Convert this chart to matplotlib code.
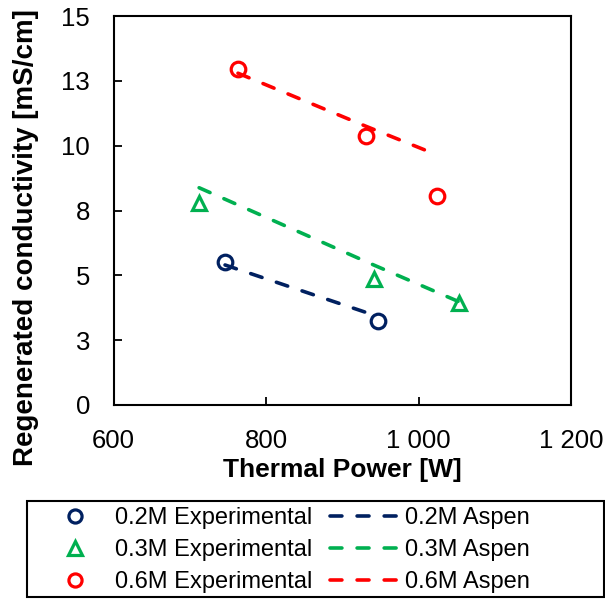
import numpy as np
import matplotlib
matplotlib.use('Agg')
import matplotlib.pyplot as plt
from matplotlib.patches import Rectangle
from matplotlib.ticker import FixedLocator, FuncFormatter

plt.rcParams['font.family'] = ['Liberation Sans', 'DejaVu Sans']

# ── Data ──────────────────────────────────────────────────────────────────────
exp_02_x = [746, 947]
exp_02_y = [5.53, 3.25]
exp_03_x = [712, 941, 1053]
exp_03_y = [7.78, 4.85, 3.95]
exp_06_x = [763, 931, 1024]
exp_06_y = [12.98, 10.37, 8.06]

asp_02_x = [746, 946]
asp_02_y = [5.40, 3.42]
asp_03_x = [712, 941, 1053]
asp_03_y = [8.38, 5.40, 3.98]
asp_06_x = [763, 931, 1024]
asp_06_y = [12.80, 10.75, 9.65]

x_ticks = [600, 800, 1000, 1200]
y_ticks = [0, 2.5, 5, 7.5, 10, 12.5, 15]

NAVY, GREEN, RED = '#002060', '#00B050', '#FF0000'

# ── Plot ──────────────────────────────────────────────────────────────────────
fig = plt.figure(figsize=(6.05, 5.99), dpi=100, facecolor='white')
ax = fig.add_axes([0.188, 0.324, 0.756, 0.649])

mk = dict(ls='none', mfc='none', ms=10.5, mew=2.3)
ln = dict(lw=2.6, dashes=(3.3, 4.2), dash_capstyle='round')

h1, = ax.plot(exp_02_x, exp_02_y, marker='o', mec=NAVY, **mk, label='0.2M Experimental')
h2, = ax.plot(exp_03_x, exp_03_y, marker='^', mec=GREEN, **mk, label='0.3M Experimental')
h3, = ax.plot(exp_06_x, exp_06_y, marker='o', mec=RED, **mk, label='0.6M Experimental')
h4, = ax.plot(asp_02_x, asp_02_y, color=NAVY, **ln, label='0.2M Aspen')
h5, = ax.plot(asp_03_x, asp_03_y, color=GREEN, **ln, label='0.3M Aspen')
h6, = ax.plot(asp_06_x, asp_06_y, color=RED, **ln, label='0.6M Aspen')

ax.set_xlim(600, 1200)
ax.set_ylim(0, 15)
ax.xaxis.set_major_locator(FixedLocator(x_ticks))
ax.yaxis.set_major_locator(FixedLocator(y_ticks))
ax.xaxis.set_major_formatter(FuncFormatter(lambda v, p: f'{int(v):,}'.replace(',', ' ')))
ax.yaxis.set_major_formatter(FuncFormatter(lambda v, p: f'{int(v + 0.5)}'))
ax.tick_params(labelsize=18.5, length=6, width=1.3, direction='in', pad=17)
for s in ax.spines.values():
    s.set_linewidth(1.5)

ax.set_xlabel('Thermal Power [W]', fontsize=19, fontweight='bold', labelpad=4)
ax.set_ylabel('Regenerated conductivity [mS/cm]', fontsize=20, fontweight='bold')
ax.yaxis.set_label_coords(-0.164, 0.43)

# Legend with a separate square frame below the axes
leg = fig.legend(handles=[h1, h2, h3, h4, h5, h6], ncol=2, frameon=False,
                 loc='upper left', bbox_to_anchor=(40 / 605, 1 - 507 / 599),
                 bbox_transform=fig.transFigure, borderpad=0, borderaxespad=0,
                 fontsize=17, handlelength=3.0, handletextpad=0.17,
                 columnspacing=0.75, labelspacing=0.43, markerscale=0.9)
fig.patches.append(Rectangle((27 / 605, 1 - 597 / 599), 577 / 605, 96 / 599,
                             transform=fig.transFigure, fill=False,
                             edgecolor='black', lw=1.5))

fig.savefig('out.png', dpi=100)
